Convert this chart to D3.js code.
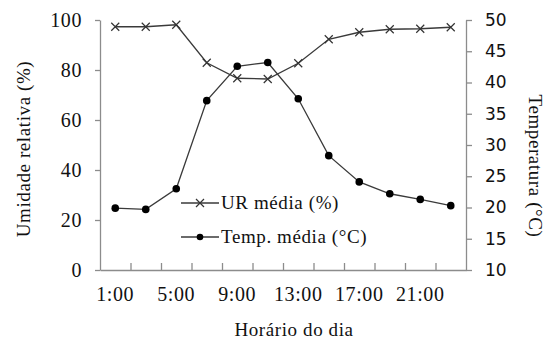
<!DOCTYPE html>
<html>
<head>
<meta charset="utf-8">
<script src="https://cdn.jsdelivr.net/npm/d3@7"></script>
<style>
  body { margin: 0; background: #fff; }
  svg { display: block; }
  text { fill: #111; }
</style>
</head>
<body>
<svg width="545" height="343"></svg>
<script>
var hours = ["1:00", "3:00", "5:00", "7:00", "9:00", "11:00", "13:00", "15:00", "17:00", "19:00", "21:00", "23:00"];
var urMedia = [97.3, 97.3, 98.1, 82.9, 76.7, 76.4, 82.7, 92.3, 95.1, 96.3, 96.5, 97.1];
var tempMedia = [19.9, 19.7, 23.0, 37.1, 42.6, 43.2, 37.4, 28.3, 24.1, 22.2, 21.3, 20.3];
var leftTicks = [0, 20, 40, 60, 80, 100];
var rightTicks = [10, 15, 20, 25, 30, 35, 40, 45, 50];

var svg = d3.select("svg");
var plotLeft = 100, plotRight = 466, plotTop = 20, plotBottom = 270;
var axisColor = "#8c8c8c";
var serifFont = "Liberation Serif";
var sansFont = "DejaVu Sans";

var xScale = d3.scaleBand().domain(hours).range([plotLeft, plotRight]);
var xIdx = d3.scaleLinear().domain([0, hours.length]).range([plotLeft, plotRight]);
var yLeft = d3.scaleLinear().domain([0, 100]).range([plotBottom, plotTop]);
var yRight = d3.scaleLinear().domain([10, 50]).range([plotBottom, plotTop]);

function styleAxis(g) {
  g.select(".domain").attr("stroke", axisColor).attr("stroke-width", 1.3);
  g.selectAll(".tick line").attr("stroke", axisColor).attr("stroke-width", 1.3);
}

function serifText(sel, size) {
  sel.attr("font-family", serifFont).attr("font-size", size)
    .style("font-family", serifFont).style("font-size", size + "px")
    .style("letter-spacing", "0.6px").attr("fill", "#111");
}

// left axis
var gl = svg.append("g")
  .attr("transform", "translate(" + plotLeft + ",0)")
  .call(d3.axisLeft(yLeft).tickValues(leftTicks).tickSize(5).tickSizeOuter(0).tickPadding(13));
styleAxis(gl);
serifText(gl.selectAll(".tick text"), 20);

// right axis
var gr = svg.append("g")
  .attr("transform", "translate(" + plotRight + ",0)")
  .call(d3.axisRight(yRight).tickValues(rightTicks).tickSize(6).tickSizeOuter(0).tickPadding(13));
styleAxis(gr);
gr.selectAll(".tick text")
  .attr("font-family", sansFont).style("font-family", sansFont)
  .style("font-size", "17px").attr("fill", "#111");

// x axis: inner ticks at band boundaries
var gx = svg.append("g")
  .attr("transform", "translate(0," + plotBottom + ")")
  .call(d3.axisBottom(xIdx).tickValues(d3.range(1, hours.length)).tickSize(-7).tickSizeOuter(0).tickFormat(""));
styleAxis(gx);

// x labels at every other band centre
var gxl = svg.append("g")
  .attr("transform", "translate(0," + plotBottom + ")")
  .call(d3.axisBottom(xScale).tickSize(0).tickPadding(17)
    .tickFormat(function (d, i) { return i % 2 === 0 ? d : ""; }));
gxl.select(".domain").remove();
serifText(gxl.selectAll(".tick text"), 20);

// axis titles
serifText(svg.append("text")
  .attr("transform", "translate(30,149) rotate(-90)")
  .attr("text-anchor", "middle")
  .text("Umidade relativa (%)"), 19);

serifText(svg.append("text")
  .attr("transform", "translate(529,166) rotate(90)")
  .attr("text-anchor", "middle")
  .text("Temperatura (°C)"), 19);

serifText(svg.append("text")
  .attr("x", 294)
  .attr("y", 336)
  .attr("text-anchor", "middle")
  .text("Horário do dia"), 19);

var cx = function (d, i) { return xScale(hours[i]) + xScale.bandwidth() / 2; };
var lineColor = "#3a3a3a";

// UR line
var urLine = d3.line().x(function (d, i) { return cx(d, i); }).y(function (d) { return yLeft(d); });
svg.append("path")
  .datum(urMedia)
  .attr("fill", "none")
  .attr("stroke", lineColor)
  .attr("stroke-width", 1.3)
  .attr("d", urLine);

var crossPath = "M-4,-4L4,4M-4,4L4,-4";
svg.selectAll(".ur")
  .data(urMedia)
  .enter()
  .append("path")
  .attr("class", "ur")
  .attr("transform", function (d, i) { return "translate(" + cx(d, i) + "," + yLeft(d) + ")"; })
  .attr("d", crossPath)
  .attr("stroke", "#333")
  .attr("stroke-width", 1.2);

// Temp line
var tLine = d3.line().x(function (d, i) { return cx(d, i); }).y(function (d) { return yRight(d); });
svg.append("path")
  .datum(tempMedia)
  .attr("fill", "none")
  .attr("stroke", lineColor)
  .attr("stroke-width", 1.3)
  .attr("d", tLine);

svg.selectAll(".temp")
  .data(tempMedia)
  .enter()
  .append("circle")
  .attr("class", "temp")
  .attr("cx", function (d, i) { return cx(d, i); })
  .attr("cy", function (d) { return yRight(d); })
  .attr("r", 3.8)
  .attr("fill", "#000");

// legend
var legend = svg.append("g").attr("transform", "translate(181,0)");
legend.append("line").attr("x1", 0).attr("x2", 38).attr("y1", 203).attr("y2", 203)
  .attr("stroke", lineColor).attr("stroke-width", 1.3);
legend.append("path").attr("d", crossPath).attr("transform", "translate(19,203)")
  .attr("stroke", "#333").attr("stroke-width", 1.2);
serifText(legend.append("text").attr("x", 40).attr("y", 209).text("UR média (%)"), 19);

legend.append("line").attr("x1", 0).attr("x2", 38).attr("y1", 237).attr("y2", 237)
  .attr("stroke", lineColor).attr("stroke-width", 1.3);
legend.append("circle").attr("cx", 19).attr("cy", 237).attr("r", 3.3).attr("fill", "#000");
serifText(legend.append("text").attr("x", 40).attr("y", 243).text("Temp. média (°C)"), 19);
</script>
</body>
</html>
